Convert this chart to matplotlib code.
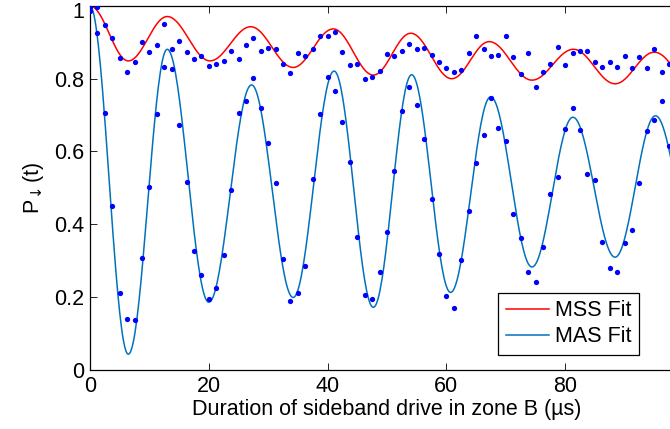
import matplotlib
matplotlib.use("Agg")
import matplotlib.pyplot as plt
import matplotlib.transforms as mtransforms
import numpy as np

plt.rcParams['font.family'] = ['Liberation Sans', 'DejaVu Sans']
plt.rcParams['mathtext.fontset'] = 'dejavusans'

# measurement times (us), one point every 1.25 us
step = 1.25
n_pts = 79

# MSS data points
mss_data = [0.998, 0.996, 0.948, 0.911, 0.856, 0.819, 0.847, 0.900, 0.873, 0.893,
            0.950, 0.882, 0.904, 0.873, 0.853, 0.862, 0.835, 0.841, 0.848, 0.875,
            0.853, 0.892, 0.911, 0.875, 0.884, 0.882, 0.841, 0.816, 0.870, 0.863,
            0.883, 0.917, 0.917, 0.929, 0.873, 0.838, 0.841, 0.800, 0.805, 0.822,
            0.869, 0.862, 0.875, 0.895, 0.882, 0.884, 0.865, 0.846, 0.830, 0.818,
            0.825, 0.872, 0.917, 0.882, 0.862, 0.866, 0.917, 0.859, 0.812, 0.872,
            0.777, 0.818, 0.840, 0.887, 0.837, 0.872, 0.875, 0.875, 0.846, 0.833,
            0.846, 0.833, 0.862, 0.830, 0.859, 0.830, 0.882, 0.818, 0.840]

# MAS data points
mas_data = [0.987, 0.925, 0.706, 0.451, 0.211, 0.138, 0.136, 0.307, 0.502, 0.702,
            0.833, 0.827, 0.674, 0.515, 0.326, 0.260, 0.194, 0.223, 0.314, 0.495,
            0.705, 0.739, 0.801, 0.720, 0.624, 0.512, 0.304, 0.188, 0.211, 0.286,
            0.524, 0.702, 0.805, 0.765, 0.680, 0.571, 0.365, 0.205, 0.194, 0.267,
            0.379, 0.546, 0.711, 0.776, 0.729, 0.633, 0.470, 0.317, 0.202, 0.170,
            0.302, 0.437, 0.567, 0.646, 0.746, 0.664, 0.629, 0.429, 0.363, 0.267,
            0.241, 0.336, 0.483, 0.529, 0.661, 0.720, 0.658, 0.539, 0.520, 0.351,
            0.280, 0.267, 0.348, 0.385, 0.514, 0.656, 0.686, 0.739, 0.615]

# fit curves: turning points (time, value)
mss_fit_t = [0, 6.45, 13.0, 20.2, 27.05, 34.2, 40.96, 47.7, 54.0, 60.9, 67.2, 74.4, 81.4, 88.4, 95.0, 101.8]
mss_fit_v = [1.0, 0.849, 0.971, 0.849, 0.943, 0.831, 0.937, 0.810, 0.925, 0.800, 0.902, 0.796, 0.881, 0.786, 0.873, 0.78]
mas_fit_t = [0, 6.45, 13.0, 20.0, 27.2, 34.2, 41.1, 47.7, 54.15, 60.7, 67.45, 74.4, 81.3, 88.4, 95.2, 102.0]
mas_fit_v = [1.0, 0.042, 0.881, 0.185, 0.783, 0.198, 0.821, 0.171, 0.811, 0.212, 0.750, 0.282, 0.694, 0.309, 0.698, 0.33]

x_ticks = [0, 20, 40, 60, 80]
y_ticks = [0, 0.2, 0.4, 0.6, 0.8, 1]
y_tick_labels = ['0', '0.2', '0.4', '0.6', '0.8', '1']


def smooth_through(tk, vk, per_seg=40):
    # half-cosine segments between turning points
    ts, vs = [], []
    for k in range(len(tk) - 1):
        s = np.linspace(0, 1, per_seg, endpoint=False)
        ts.append(tk[k] + s * (tk[k + 1] - tk[k]))
        vs.append(vk[k] + (vk[k + 1] - vk[k]) * (1 - np.cos(np.pi * s)) / 2)
    ts.append([tk[-1]])
    vs.append([vk[-1]])
    return np.concatenate(ts), np.concatenate(vs)


t = np.arange(n_pts) * step

fig = plt.figure(figsize=(6.70, 4.29), dpi=100)
# the axes run a little past the right edge of the picture, as in the original
ax = fig.add_axes([90 / 670, (429 - 369.5) / 429, 594 / 670, 363.5 / 429])

x1, y1 = smooth_through(mss_fit_t, mss_fit_v)
x2, y2 = smooth_through(mas_fit_t, mas_fit_v)
ax.plot(x1, y1, color='#ff0000', lw=1.1, label='MSS Fit', zorder=2)
ax.plot(x2, y2, color='#0072bd', lw=1.1, label='MAS Fit', zorder=2)
ax.plot(t, mss_data, 'o', color='#0000ff', markersize=3.8, markeredgewidth=0, zorder=3)
ax.plot(t, mas_data, 'o', color='#0000ff', markersize=3.8, markeredgewidth=0, zorder=3)

ax.set_xlim(0, 100)
ax.set_ylim(0, 1)
ax.set_xticks(x_ticks)
ax.set_yticks(y_ticks)
ax.set_yticklabels(y_tick_labels)
ax.tick_params(direction='in', top=True, right=True, length=5, width=0.6,
               labelsize=15.5, pad=4)
ax.tick_params(axis='x', pad=5)
for sp in ax.spines.values():
    sp.set_linewidth(0.9)

# nudge the top "1" down a little so it stays inside the picture
top_lab = ax.get_yticklabels()[-1]
top_lab.set_transform(top_lab.get_transform() +
                      mtransforms.ScaledTranslation(0, -3 / 72, fig.dpi_scale_trans))

ax.set_xlabel('Duration of sideband drive in zone B (\u00b5s)', fontsize=15.5, labelpad=1)
ax.set_ylabel(r'P$_{\!\downarrow}$(t)', fontsize=15.5, labelpad=6)

leg = ax.legend(loc='lower left', bbox_to_anchor=(0.687, 0.04), fontsize=15.5,
                fancybox=False, framealpha=1, edgecolor='black',
                handlelength=2.0, handletextpad=0.3, borderpad=0.35,
                labelspacing=0.25, borderaxespad=0)
leg.get_frame().set_linewidth(0.9)

fig.savefig('out.png', dpi=100)
